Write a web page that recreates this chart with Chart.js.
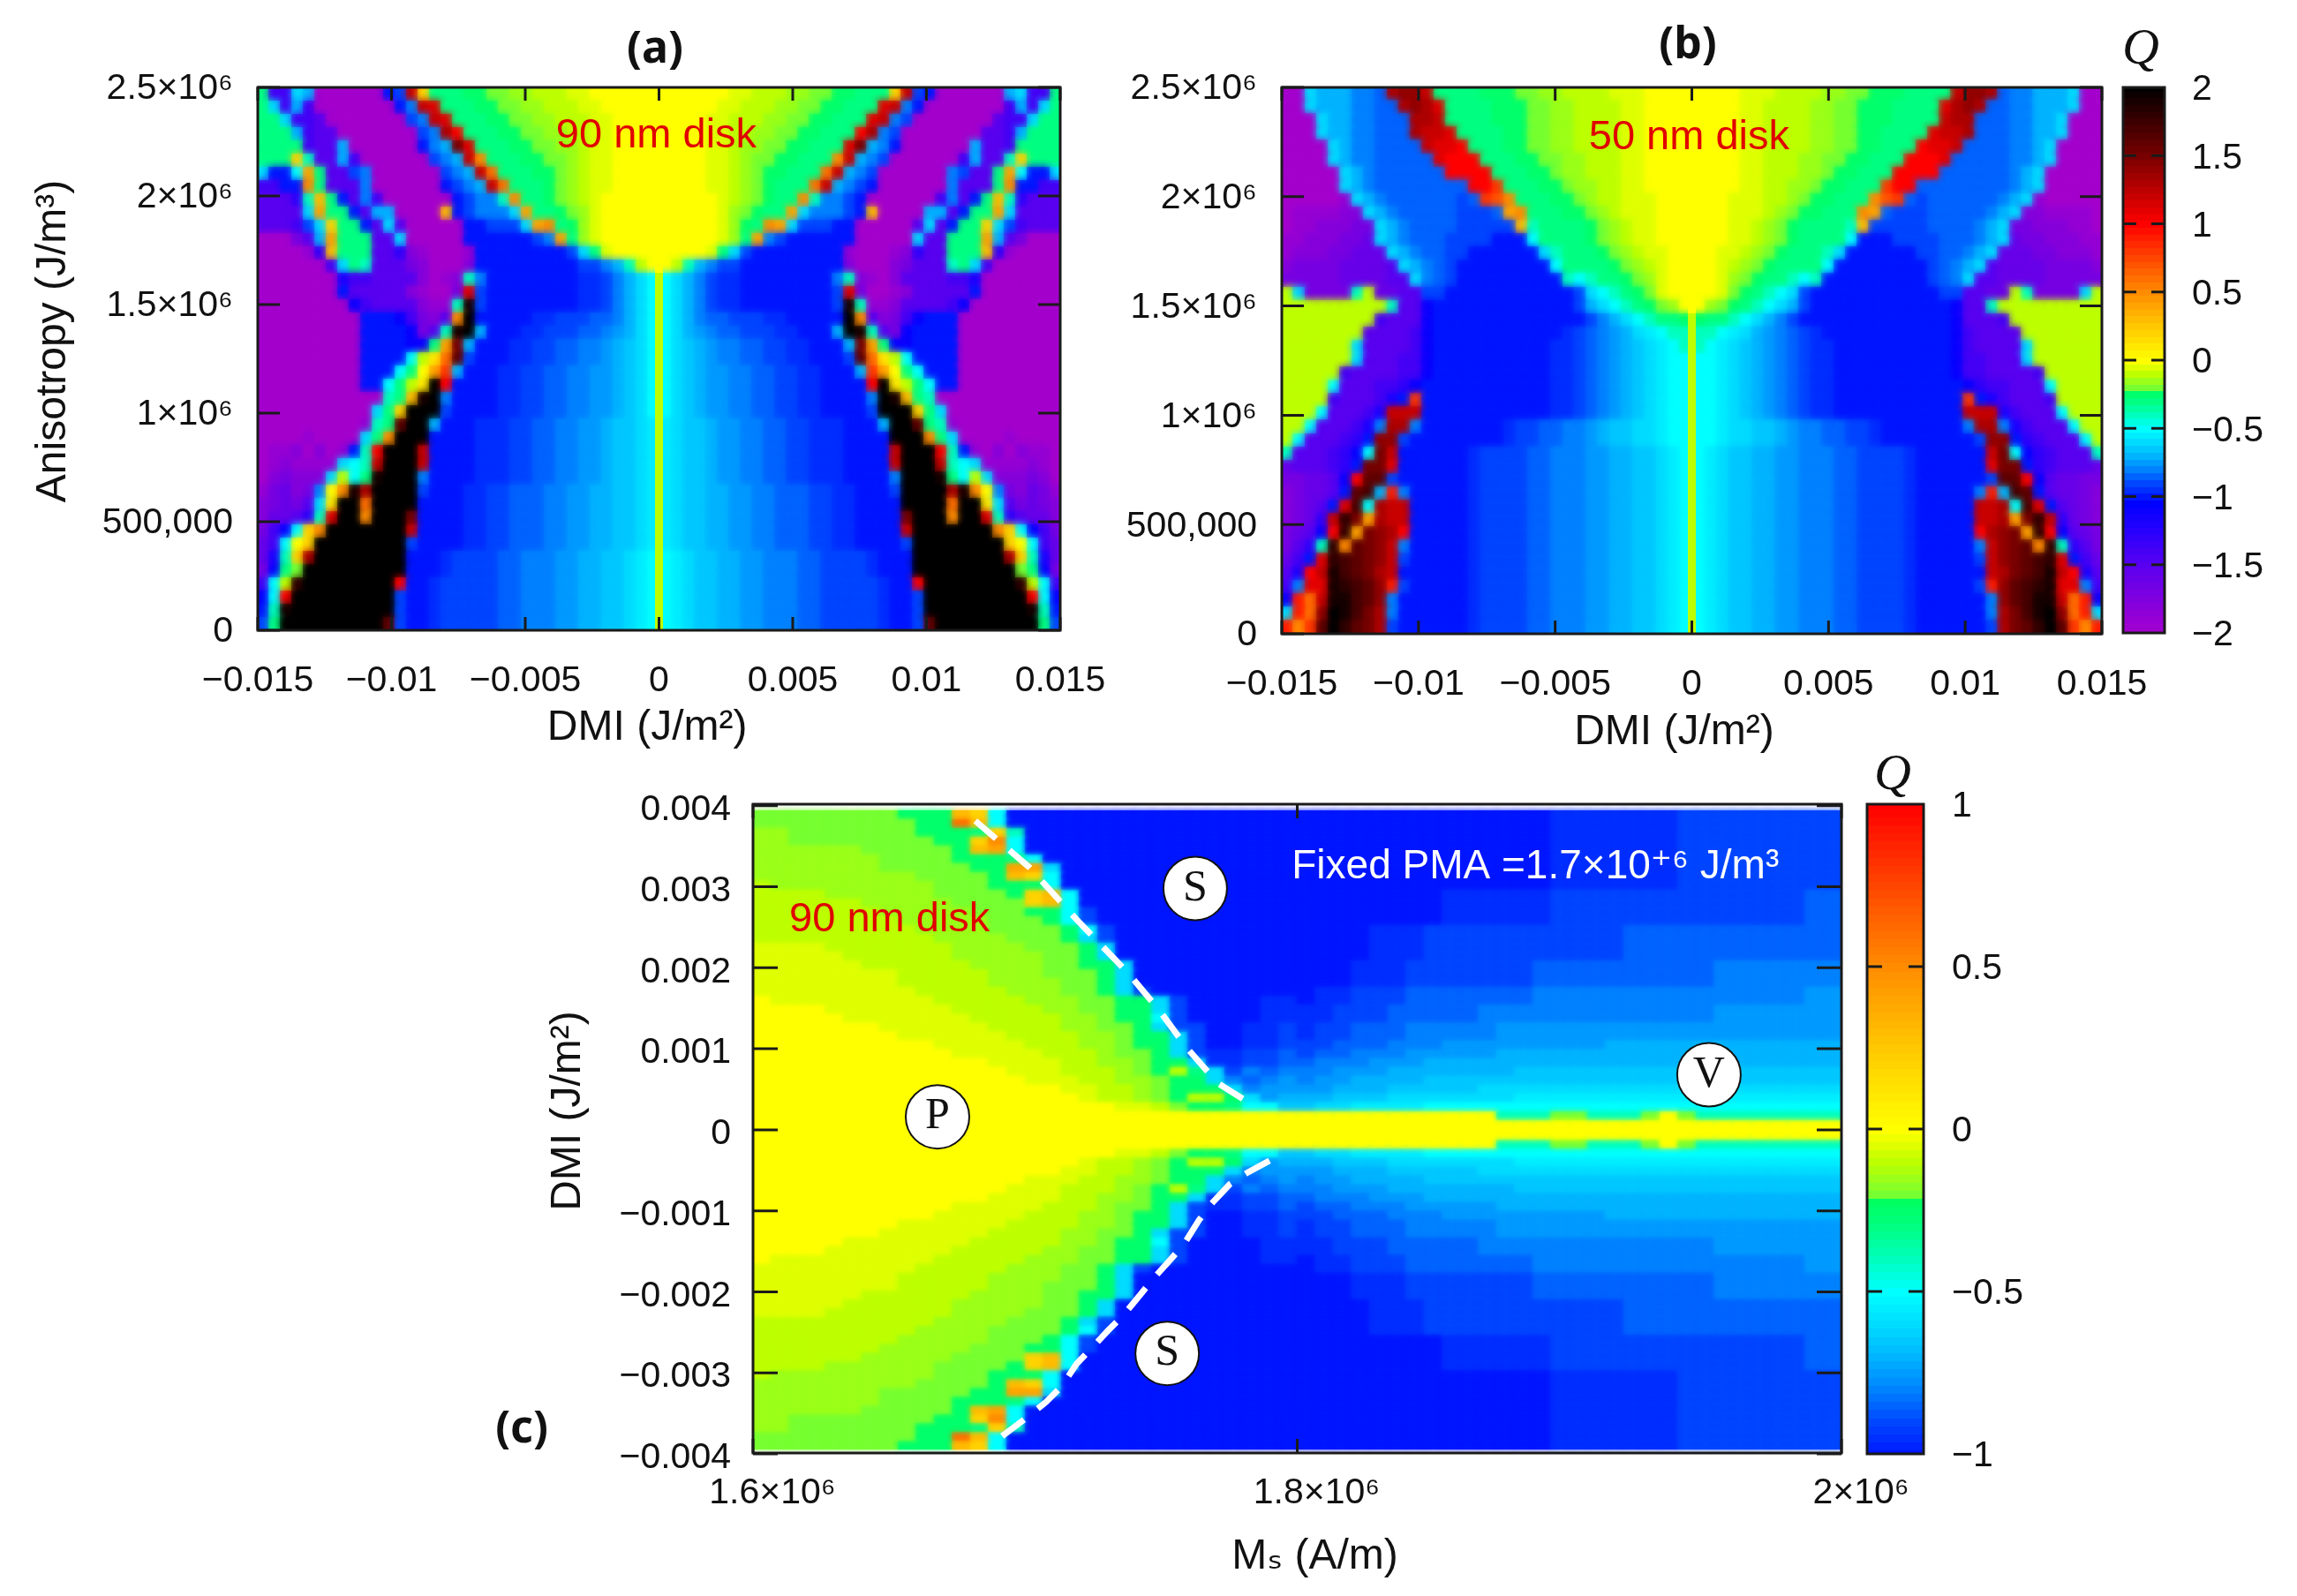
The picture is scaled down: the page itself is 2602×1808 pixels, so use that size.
<!DOCTYPE html>
<html>
<head>
<meta charset="utf-8">
<title>Q maps</title>
<script src="https://cdn.jsdelivr.net/npm/chart.js@4"></script>
<style>
html,body{margin:0;background:#fff}
#page{position:relative;width:2602px;height:1808px;overflow:hidden;color:#111}
canvas{position:absolute}
.note{position:absolute;transform:translate(-50%,-50%);white-space:nowrap}
.panel{font:bold 50px "Noto Sans"}
.q{font:italic 58px "Liberation Serif"}
</style>
</head>
<body>
<div id="page">
<canvas id="chart_a"></canvas>
<canvas id="chart_b"></canvas>
<canvas id="bar_ab"></canvas>
<canvas id="chart_c"></canvas>
<canvas id="bar_c"></canvas>
<div class="note panel" style="left:742px;top:52px">(a)</div>
<div class="note panel" style="left:1912px;top:47px">(b)</div>
<div class="note panel" style="left:591px;top:1615px">(c)</div>
<div class="note q" style="left:2425px;top:52px">Q</div>
<div class="note q" style="left:2144px;top:874px">Q</div>
</div>
<script>
// every letter is one read Q level, a = -2 ... u = 0 ... O = 2 in steps of 0.1
const q_levels = "abcdefghijklmnopqrstuvwxyzABCDEFGHIJKLMNO";
const q_half_levels = {"1": -0.25, "2": -0.15, "3": -0.05, "4": -0.95, "5": -0.85, "6": -0.75, "7": -0.65, "8": -0.55};

// (a) 90 nm disk, DMI < 0 side, top row = highest anisotropy. Map is mirror symmetric in DMI
const q_rows_a = [
"rggon aaaaa aklGw rrr11 ss22t tt33u uuuuu",
"rogng aaaaa aakmG Frrr1 1ss22 ttt33 uuuuu",
"rrogg faaaa aaalm GFrrr 11ss2 2ttt3 3uuuu",
"rrrng ffaaa aaaal mHErr r11ss 22tt3 3uuuu",
"rrrrg ffnaa aaaak mnJFr rr11s s22t3 3uuuu",
"rrrwq ffnga aaaaa lmnGz rrr11 ss2t3 3uuuu",
"okkpy rfflm aaaaa almnG Arrr1 1s2t3 3uuuu",
"ggkkz rfffm aaaaa aklmn GArrr 1s2t3 3uuuu",
"fffhq xrkfm gaaaa aaklm mqzrr 1s2t3 uuuuu",
"ffffo yrrkf nnaaa axklm mmoyr r1s23 uuuuu",
"fffgl owrrk fofaa aaakk llloy zr123 uuuuu",
"aaadf nyrrr ffoaa aaakk kkkkl myr23 uuuuu",
"aaaab hxrrr ffhcb aaabk kkkkk kklor 3uuuu",
"aaaaa agorq fffdc aaack kkkkk kkkll mnqtu",
"aaaaa aaigg ffffc abcqm kkkkk kkk44 lmnop",
"aaaaa aakff fffcb aadFl kkkkk kkk44 lmnop",
"aaaaa aaajg ffffc bbqNl kkkkk kkk44 lmnop",
"aaaaa aaaak kkjgd cfzOk kkkk4 4lll5 5mnop",
"aaaaa aaaak kkkjd fqNOn kkk44 lll55 m6nop",
"aaaaa aaaak kkkjj ryJnk kk44l l55mm 6n7op",
"aaaaa aaaak kkkpt vAKlk kk44l l55mm 6n7op",
"aaaaa aaaak kkpru yCnkk k44ll 55mm6 6n7op",
"aaaaa aaaak kprtv OEkkk k44ll 55mm6 6n7op",
"aaaaa aaaaa aqrxN Omkkk k44ll 55mm6 6n7op",
"aaaaa aaaaa orwOO Olkkk k44ll 55mm6 6n7op",
"aaaaa aaaab qrKOO nkkk4 44ll5 5mm66 n77o8",
"aaaab aaaao rzOOO kkkk4 44ll5 5mm66 n77o8",
"abbca cabkq EOOOG kkkk4 44ll5 5mm66 n77o8",
"abcbb bbopq GOOOG kkkk4 44ll5 5mm66 n77o8",
"acdcc cotpr NOOOm kkkk4 44ll5 5mm66 n77o8",
"bdecd muzNH OOOOl kkk44 ll555 mm66n n77o8",
"cdedf ovOOA OOOOk kkk44 ll555 mm66n n77o8",
"ceefh qFOOz OOOJk kkk44 ll555 mm66n n77o8",
"dgjpw zOOOO OOOGk kkk44 ll555 mm66n n77o8",
"egpuw OOOOO OOOlk kkk44 ll555 mm66n n77o8",
"eiqwH OOOOO OOOkk k4lll l55mm m66nn 77o8p",
"djrsO OOOOO OOOkk k4lll l55mm m66nn 77o8p",
"gptMO OOOOO OOEkk 4llll l55mm m66nn 77o8p",
"jpEOO OOOOO OOlkk 4llll l55mm m66nn 77o8p",
"kqNOO OOOOO OOlkk 4llll l55mm m66nn 77o8p",
"lrOOO OOOOO OKlkk 4llll l55mm m66nn 77o8p"
];
const q_centre_a = "uuuuu uuuuu uuuut ttttt ttttt ttttt ttttt ttttt t";

// (b) 50 nm disk, same layout
const q_rows_b = [
"aaonn nmm5H IIGrr rr111 ss22t ttt33 3uuuu",
"aaonn nmm55 HIHFr rrr11 1ss22 tttt3 3uuuu",
"aaaon nmm55 5HHGr rrr11 1ss22 tttt3 3uuuu",
"aaaon nmm55 5HGGF rrrr1 1ss22 tttt3 3uuuu",
"aaaao nmm55 55GFF Errr1 1ss22 tttt3 3uuuu",
"aaaao nmm55 555FE EErrr 11ss2 2ttt3 3uuuu",
"aaaaa onm55 5555E EEErr r11s2 2ttt3 3uuuu",
"aaaaa onm55 55555 5EECr rr11s 22tt3 3uuuu",
"aaaaa bonm5 55555 l5CBz rrr11 s2tt3 33uuu",
"abbbb cconm 55555 lll5y zrrr1 1s2t3 33uuu",
"abbcc cddon m5555 lllll xqrrr r1s2t 33uuu",
"bbccc ddeon m555l lllkk kprrr r1s2t 33uuu",
"bcccd deeeo nm55l lkkkk kkoqr rr1s2 t33uu",
"cdddd eeeef onm5l kkkkk kkkpr rrr1s 2t3uu",
"ddddd eeeef fom5l kkkkk kkkkq pqrr1 s23uu",
"toddd dqtee ffllk kkkkk kkkkk lopqr 1s3uu",
"ttttt ttttq ffjkk kkkkk kkkkk lnopq r1s2u",
"ttttt tttgf ffjkk kkkkk kkkkk klmno pqrr1",
"ttttt ttfff fgjkk kkkkk kkkk4 l5m6n o8pqq",
"ttttt tofff fgjkk kkkkk kkk44 l5m6n 7o8pq",
"ttttt tofff ggjkk kkkkk kkk44 l5m6n 7o8pp",
"ttttt gffff ggjkk kkkkk kkk44 l5m6n 7o8pp",
"ttttp fffgg hjkkk kkkkk kkk44 l5m6n 7o8pp",
"ttttg fffgi kCkkk kkkkk kkk44 l5m6n 7o8pp",
"tttpf ffgiG GGkkk kkkkk kkk44 l5m6n 7o8pp",
"ttpff fgimH Hmkkk kkkk4 ll55m m6n77 oo8pp",
"tpfff ghkII lkkkk kkkk4 ll55m m6n77 oo8pp",
"qfffg hjpJG kkkkk k4lll l55mm m66nn 77o8p",
"efffg hkJJF kkkkk k4lll l55mm m66nn 77o8p",
"ddeef jEKKl kkkkk k4lll l55mm m66nn 77o8p",
"cdeef kKLnD mkkkk k4lll l55mm m66nn 77o8p",
"cdefk FLpHG Gkkkk k4lll l55mm m66nn 77o8p",
"cdehG MJyHG Gkkkk k4lll l55mm m66nn 77o8p",
"defjE MyJIH Ekkkk k4lll l55mm m66nn 77o8p",
"dfhqM zKJIG mkkkk k4lll l55mm m66nn 77o8p",
"egkFM LKJIG lkkkk k4lll l55mm m66nn 77o8p",
"fiEGN LKJHG kkkkk k4lll l55mm m66nn 77o8p",
"gmFFN MLKID lkkkk k4lll l55mm m66nn 77o8p",
"jDAGN NLKIm kkkkk k4lll l55mm m66nn 77o8p",
"oDAIO NLJHm kkkkk k4lll l55mm m66nn 77o8p",
"DzCKO MKJHl kkkkk k4lll l55mm m66nn 77o8p"
];
const q_centre_b = "uuuuu uuuuu uuuuu uuttt ttttt ttttt ttttt ttttt t";

// (c) upper half only, DMI > 0, top row first. The lower half reads the same
const q_rows_c = [
"sssss sss11 1xwpk kkkkk kkkkk kkkkk kkkkk kkkkk kkkk4 44444 4llll lllll",
"sssss ssss1 1Axpk kkkkk kkkkk kkkkk kkkkk kkkkk kkkk4 44444 4llll lllll",
"22sss ssss1 11rwq kkkkk kkkkk kkkkk kkkkk kkkkk kkkk4 44444 4llll lllll",
"22sss sssss 11wzp kkkkk kkkkk kkkkk kkkkk kkkkk kkkk4 44444 4llll lllll",
"22222 2ssss s1xyp kkkkk kkkkk kkkkk kkkkk kkkkk kkkk4 44444 4llll lllll",
"22222 22sss s111r pkkkk kkkkk kkkkk kkkkk kkkkk kkkk4 44444 4llll lllll",
"22222 22sss ss11y yokkk kkkkk kkkkk kkkkk kkkkk kkkk4 44444 4llll lllll",
"22222 2222s sss1x wpkkk kkkkk kkkkk kkkkk kkkkk kkkk4 44444 4llll lllll",
"t2222 22222 sss11 1pkkk kkkkk kkkkk kkkkk kkkkk kkkk4 44444 4llll lllll",
"tttt2 22222 ssss1 wxpkk kkkkk kkkkk kkkkk kkk44 4444l lllll lllll lll55",
"ttttt t2222 2ssss wxpkk kkkkk kkkkk kkkkk kkk44 4444l lllll lllll lll55",
"ttttt tt222 22sss 11plk kkkkk kkkkk kkkkk kkk44 4444l lllll lllll lll55",
"ttttt ttt22 222ss s1plk kkkkk kkkkk kkkkk kkk44 4444l lllll lllll lll55",
"ttttt tttt2 222ss ss1pl kkkkk kkkkk kkkk4 44lll lllll lll55 55555 55555",
"ttttt ttttt 2222s ss1ol kkkkk kkkkk kkkk4 44lll lllll lll55 55555 55555",
"3333t ttttt t2222 sss1o kkkkk kkkkk kkkk4 44lll lllll lll55 55555 55555",
"33333 ttttt t2222 2ss1o kkkkk kkkkk kkkk4 44lll lllll lll55 55555 55555",
"33333 3tttt tt222 2ss11 okkkk kkkkk kkk44 4llll lll55 55555 555mm mmmmm",
"33333 333tt ttt22 2sss1 okkkk kkkkk kkk44 4llll lll55 55555 555mm mmmmm",
"33333 333tt ttt22 22ss1 okkkk kkkkk kkk44 4llll lll55 55555 555mm mmmmm",
"33333 3333t tttt2 22ss1 olkkk kkkkk k44ll l5555 555mm mmmmm mmmmm mmm66",
"u3333 33333 ttttt 222ss 11olk kkk44 k44ll l5555 555mm mmmmm mmmmm mmm66",
"uuuu3 33333 3tttt t22ss 11olk kkk44 44lll 55555 mmmmm mmmmm mmm66 66666",
"uuuuu 33333 33ttt tt22s 11plk kkk44 44lll 55555 mmmmm mmmmm mmm66 66666",
"uuuuu uu333 333tt tt22s s1oll kk44l 4ll55 5mmmm m6666 66666 66666 66666",
"uuuuu uuu33 3333t ttt22 s11ol kk44l 4ll55 5mmmm m6666 66666 66666 66666",
"uuuuu uuuuu 33333 ttt22 s11ol kk44l ll555 mmm66 66666 66nnn nnnnn nnnnn",
"uuuuu uuuuu u3333 3ttt2 ss1ol 44ll5 l55mm m6666 6nnnn nnnnn nnnnn nnnnn",
"uuuuu uuuuu uuu33 33tt2 2s11o 44ll5 5mmm6 66nnn nnnnn nnnnn nnnnn nnnnn",
"uuuuu uuuuu uuuu3 33ttt 2s1tr olm5m mm666 nnnnn nn777 77777 77777 77777",
"uuuuu uuuuu uuuuu 333tt 22s11 om5m6 m66nn nn777 77777 77777 77777 77777",
"uuuuu uuuuu uuuuu uu33t t2s11 1om66 66nnn 77777 ooooo ooooo ooooo ooooo",
"uuuuu uuuuu uuuuu uuu3t t2s1t t1o6n nn777 ooooo oo888 88888 88888 88888",
"uuuuu uuuuu uuuuu uuuuu 33ts1 1rpp7 7oo88 88ppp ppppp ppppp ppppp ppppp",
"uuuuu uuuuu uuuuu uuuuu uuuuu uuuuu uuuuu uuuuu uqqqs sqqqs usqqq qqqqq",
"uuuuu uuuuu uuuuu uuuuu uuuuu uuuuu uuuuu uuuuu uuuuu uuuuu uuuuu uuuuu"
];

const q_ramp_ab = [-2,-1.95,-1.9,-1.85,-1.8,-1.75,-1.7,-1.65,-1.6,-1.55,-1.5,-1.45,-1.4,-1.35,-1.3,-1.25,-1.2,-1.15,-1.1,-1.05,-1,-0.95,-0.9,-0.85,-0.8,-0.75,-0.7,-0.65,-0.6,-0.55,-0.5,-0.45,-0.4,-0.35,-0.3,-0.25,-0.2,-0.15,-0.1,-0.05,0,0.05,0.1,0.15,0.2,0.25,0.3,0.35,0.4,0.45,0.5,0.55,0.6,0.65,0.7,0.75,0.8,0.85,0.9,0.95,1,1.05,1.1,1.15,1.2,1.25,1.3,1.35,1.4,1.45,1.5,1.55,1.6,1.65,1.7,1.75,1.8,1.85,1.9,1.95,2];
const q_ramp_c = [-1,-0.975,-0.95,-0.925,-0.9,-0.875,-0.85,-0.825,-0.8,-0.775,-0.75,-0.725,-0.7,-0.675,-0.65,-0.625,-0.6,-0.575,-0.55,-0.525,-0.5,-0.475,-0.45,-0.425,-0.4,-0.375,-0.35,-0.325,-0.3,-0.275,-0.25,-0.225,-0.2,-0.175,-0.15,-0.125,-0.1,-0.075,-0.05,-0.025,0,0.025,0.05,0.075,0.1,0.125,0.15,0.175,0.2,0.225,0.25,0.275,0.3,0.325,0.35,0.375,0.4,0.425,0.45,0.475,0.5,0.525,0.55,0.575,0.6,0.625,0.65,0.675,0.7,0.725,0.75,0.775,0.8,0.825,0.85,0.875,0.9,0.925,0.95,0.975,1];

// tick values and labels
const dmi_ticks = [-0.015,-0.01,-0.005,0,0.005,0.01,0.015];
const dmi_labels = ["−0.015","−0.01","−0.005","0","0.005","0.01","0.015"];
const anis_ticks = [0,500000,1000000,1500000,2000000,2500000];
const anis_labels = ["0","500,000","1×10⁶","1.5×10⁶","2×10⁶","2.5×10⁶"];
const ms_ticks = [1600000,1800000,2000000];
const ms_labels = ["1.6×10⁶","1.8×10⁶","2×10⁶"];
const dmi_c_ticks = [-0.004,-0.003,-0.002,-0.001,0,0.001,0.002,0.003,0.004];
const dmi_c_labels = ["−0.004","−0.003","−0.002","−0.001","0","0.001","0.002","0.003","0.004"];
const bar_ab_ticks = [-2,-1.5,-1,-0.5,0,0.5,1,1.5,2];
const bar_ab_labels = ["−2","−1.5","−1","−0.5","0","0.5","1","1.5","2"];
const bar_c_ticks = [-1,-0.5,0,0.5,1];
const bar_c_labels = ["−1","−0.5","0","0.5","1"];

// dashed guide in (c)
const guide_up_ms = [1681700,1701700,1718900,1738100,1749400,1759300,1770600,1785200];
const guide_up_dmi = [0.003815,0.003235,0.002597,0.001926,0.001471,0.001017,0.000581,0.000272];
const guide_down_ms = [1789800,1781800,1775200,1768600,1764000,1758600,1754000,1747300,1742700,1736100,1730700,1724300,1718900,1713600,1707700,1700300,1694400,1686500];
const guide_down_dmi = [-0.000381,-0.000526,-0.000672,-0.000908,-0.00111,-0.0014,-0.00158,-0.00183,-0.00202,-0.00229,-0.00247,-0.0027,-0.00289,-0.00316,-0.00336,-0.00356,-0.00371,-0.00391];

// region markers in (c)
const region_names = ["P","S","S","V"];
const region_ms = [1667800,1762500,1752200,1951300];
const region_dmi = [0.00016,0.00298,-0.00276,0.00068];

// colour map of the colour bars
const map_q = [-2,-1.5,-1.2,-1.05,-0.9,-0.8,-0.7,-0.6,-0.5,-0.4,-0.3,-0.22,-0.2,-0.1,0,0.25,0.5,0.75,1,1.5,2];
const map_rgb = [[165,0,205],[90,0,240],[30,0,255],[0,0,255],[0,70,255],[0,130,255],[0,180,255],[0,220,255],[0,255,255],[0,255,190],[0,255,130],[0,255,95],[120,255,50],[190,255,0],[255,255,0],[255,200,0],[255,140,0],[255,70,0],[255,0,0],[120,0,0],[0,0,0]];

const sans = "'Liberation Sans','DejaVu Sans',sans-serif";
const tick_font = {family: sans, size: 41};
const ink = "#111";

function decode(row){
    return row.replace(/ /g, "").split("").map(c => c in q_half_levels ? q_half_levels[c] : (q_levels.indexOf(c) - 20) / 10);
}

function colourFor(q){
    let i = 0;
    while(i < map_q.length - 2 && q > map_q[i + 1]) i++;
    const t = Math.min(1, Math.max(0, (q - map_q[i]) / (map_q[i + 1] - map_q[i])));
    const c = map_rgb[i].map((v, k) => Math.round(v + (map_rgb[i + 1][k] - v) * t));
    return `rgb(${c[0]},${c[1]},${c[2]})`;
}

// one small canvas per cell size and colour, handed to Chart.js as the point style.
// soft cells are feathered, laid over the hard ones so neighbouring cells melt together
const cell_cache = {};
function cellStyle(ctx){
    if(!ctx.raw) return "rect";
    const xs = ctx.chart.scales.x, ys = ctx.chart.scales.y;
    const w = Math.ceil(Math.abs(xs.getPixelForValue(ctx.dataset.cellW) - xs.getPixelForValue(0))) + 1;
    const h = Math.ceil(Math.abs(ys.getPixelForValue(ctx.dataset.cellH) - ys.getPixelForValue(0))) + 1;
    const soft = ctx.dataset.soft || 0;
    const col = colourFor(ctx.raw.q);
    const key = w + "_" + h + "_" + soft + "_" + col;
    if(!cell_cache[key]){
        const m = soft * 3;
        const c = document.createElement("canvas");
        c.width = w + 2 * m;
        c.height = h + 2 * m;
        const g = c.getContext("2d");
        if(soft) g.filter = `blur(${soft}px)`;
        g.fillStyle = col;
        g.fillRect(m, m, w, h);
        cell_cache[key] = c;
    }
    return cell_cache[key];
}

function cellDataset(points, cellW, cellH, order, soft){
    return {data: points, cellW, cellH, order, soft, pointStyle: cellStyle, pointRadius: 2, pointBorderWidth: 0, showLine: false};
}

function halfMapPoints(rows, dmi_max, anis_max){
    const grid = rows.map(decode);
    const dx = dmi_max / grid[0].length, dy = anis_max / grid.length;
    const points = [];
    grid.forEach((row, r) => row.forEach((q, c) => {
        const x = -dmi_max + (c + 0.5) * dx, y = anis_max - (r + 0.5) * dy;
        points.push({x, y, q}, {x: -x, y, q});
    }));
    return {points, dx, dy};
}

function mapDatasets(rows, centre, dmi_max, anis_max){
    const m = halfMapPoints(rows, dmi_max, anis_max);
    const values = decode(centre);
    const dy = anis_max / values.length;
    const centre_points = values.map((q, r) => ({x: 0, y: anis_max - (r + 0.5) * dy, q}));
    return [
        cellDataset(m.points, m.dx, m.dy, 6, 0),
        cellDataset(m.points, m.dx, m.dy, 5, 4),
        cellDataset(centre_points, 0.00024, dy, 4, 0)
    ];
}

function rampDataset(ramp, step){
    return cellDataset(ramp.map(q => ({x: 0.5, y: q, q})), 1, step, 5, 0);
}

function zip(xs, ys){
    return xs.map((x, i) => ({x, y: ys[i]}));
}

function axis(lo, hi, values, labels, opts){
    return {
        min: lo, max: hi,
        position: opts.position,
        display: opts.display !== false,
        grid: {display: false, drawTicks: false},
        border: {display: false},
        afterBuildTicks: s => { s.ticks = values.map(v => ({value: v})); },
        afterFit: s => {
            if(!opts.size) return;
            if(s.isHorizontal()) s.height = opts.size; else s.width = opts.size;
        },
        ticks: {
            autoSkip: false, maxRotation: 0, minRotation: 0,
            padding: opts.padding, labelOffset: opts.offset || 0,
            font: tick_font, color: ink,
            callback: (v, i) => labels[i]
        },
        title: opts.title ? {
            display: true, text: opts.title, color: ink,
            font: {family: sans, size: 48},
            padding: {top: opts.titlePad, bottom: opts.titlePad}
        } : {display: false}
    };
}

// frame, inward ticks and the texts sitting on the map
function marksPlugin(tick_x, tick_y, notes, gapped){
    return {
        id: "marks",
        afterDatasetsDraw(chart){
            const g = chart.ctx, a = chart.chartArea, xs = chart.scales.x, ys = chart.scales.y;
            g.save();
            g.strokeStyle = "#1a1a1a";
            g.lineWidth = 3;
            g.strokeRect(a.left, a.top, a.right - a.left, a.bottom - a.top);
            if(tick_x > 0) xs.ticks.forEach(t => {
                const p = xs.getPixelForValue(t.value);
                g.beginPath();
                g.moveTo(p, a.top); g.lineTo(p, a.top + tick_x);
                g.moveTo(p, a.bottom); g.lineTo(p, a.bottom - tick_x);
                g.stroke();
            });
            ys.ticks.forEach(t => {
                const p = ys.getPixelForValue(t.value);
                if(gapped && (p <= a.top + 2 || p >= a.bottom - 2)) return;
                g.beginPath();
                g.moveTo(a.left, p); g.lineTo(a.left + tick_y, p);
                g.moveTo(a.right, p); g.lineTo(a.right - tick_y, p);
                g.stroke();
            });
            g.textAlign = "center";
            g.textBaseline = "middle";
            notes.forEach(n => {
                g.font = n.font;
                g.fillStyle = n.color;
                g.fillText(n.text, xs.getPixelForValue(n.x), ys.getPixelForValue(n.y));
            });
            g.restore();
        }
    };
}

function makeChart(id, box, plot, datasets, x_axis, y_axis, plugin){
    const canvas = document.getElementById(id);
    canvas.width = box.r - box.l;
    canvas.height = box.b - box.t;
    canvas.style.left = box.l + "px";
    canvas.style.top = box.t + "px";
    return new Chart(canvas, {
        type: "scatter",
        data: {datasets},
        plugins: [plugin],
        options: {
            responsive: false,
            animation: false,
            events: [],
            devicePixelRatio: 1,
            layout: {padding: {
                left: y_axis.position === "right" ? plot.l - box.l : 0,
                top: plot.t - box.t,
                right: y_axis.position === "right" ? 0 : box.r - plot.r,
                bottom: x_axis.display === false ? box.b - plot.b : 0
            }},
            plugins: {legend: {display: false}, tooltip: {enabled: false}, title: {display: false}},
            scales: {x: x_axis, y: y_axis}
        }
    });
}

const red_note = "47px " + sans;
// the axis titles of the reference sit a little off the axis middle
const nudge = n => "\u00A0".repeat(n);

// (a)
makeChart("chart_a", {l: 0, t: 0, r: 1310, b: 860}, {l: 292, t: 99, r: 1201, b: 714},
    mapDatasets(q_rows_a, q_centre_a, 0.015, 2500000),
    axis(-0.015, 0.015, dmi_ticks, dmi_labels, {position: "bottom", size: 146, padding: 33, title: "DMI (J/m²)" + nudge(2), titlePad: 6}),
    axis(0, 2500000, anis_ticks, anis_labels, {position: "left", size: 292, padding: 28, offset: 2, title: nudge(3) + "Anisotropy (J/m³)", titlePad: 32}),
    marksPlugin(15, 25, [{text: "90 nm disk", x: -0.0001, y: 2276000, font: red_note, color: "#e00000"}]));

// (b)
makeChart("chart_b", {l: 1260, t: 0, r: 2490, b: 860}, {l: 1452, t: 99, r: 2381, b: 718},
    mapDatasets(q_rows_b, q_centre_b, 0.015, 2500000),
    axis(-0.015, 0.015, dmi_ticks, dmi_labels, {position: "bottom", size: 142, padding: 33, title: "DMI (J/m²)" + nudge(3), titlePad: 1}),
    axis(0, 2500000, anis_ticks, anis_labels, {position: "left", size: 192, padding: 28, offset: 2}),
    marksPlugin(15, 25, [{text: "50 nm disk", x: -0.0001, y: 2270000, font: red_note, color: "#e00000"}]));

// colour bar of (a) and (b)
makeChart("bar_ab", {l: 2395, t: 20, r: 2602, b: 775}, {l: 2405, t: 99, r: 2452, b: 717},
    [rampDataset(q_ramp_ab, 0.05)],
    axis(0, 1, [], [], {display: false, position: "bottom"}),
    axis(-2, 2, bar_ab_ticks, bar_ab_labels, {position: "right", size: 150, padding: 31, offset: 3}),
    marksPlugin(0, 15, [], true));

// (c)
const grid_c = q_rows_c.map(decode);
const c_top = 0.003935, c_dx = 400000 / grid_c[0].length, c_dy = c_top / grid_c.length;
const points_c = [];
grid_c.forEach((row, r) => row.forEach((q, c) => {
    const x = 1600000 + (c + 0.5) * c_dx, y = c_top - (r + 0.5) * c_dy;
    points_c.push({x, y, q}, {x, y: -y, q});
}));
const guide = {showLine: true, pointRadius: 0, borderColor: "#fff", borderWidth: 7, borderDash: [31, 20], order: 2, tension: 0};
makeChart("chart_c", {l: 560, t: 840, r: 2210, b: 1800}, {l: 853, t: 911, r: 2086, b: 1646},
    [
        cellDataset(points_c, c_dx, c_dy, 6, 0),
        cellDataset(points_c, c_dx, c_dy, 5, 3),
        {...guide, data: zip(guide_up_ms, guide_up_dmi)},
        {...guide, data: zip(guide_down_ms, guide_down_dmi)},
        {data: zip(region_ms, region_dmi), order: 1, showLine: false, pointRadius: 36, pointBackgroundColor: "#fff", pointBorderColor: "#111", pointBorderWidth: 2}
    ],
    axis(1600000, 2000000, ms_ticks, ms_labels, {position: "bottom", size: 154, padding: 21, offset: 22, title: nudge(3) + "Mₛ (A/m)", titlePad: 7}),
    axis(-0.00399, 0.00402, dmi_c_ticks, dmi_c_labels, {position: "left", size: 293, padding: 25, offset: 5, title: nudge(3) + "DMI (J/m²)", titlePad: 55}),
    marksPlugin(16, 28, [
        {text: "90 nm disk", x: 1650200, y: 0.00259, font: red_note, color: "#e00000"},
        {text: "Fixed PMA =1.7×10⁺⁶ J/m³", x: 1887500, y: 0.00324, font: "46px " + sans, color: "#fff"},
        ...region_names.map((name, i) => ({text: name, x: region_ms[i], y: region_dmi[i], font: "50px 'Liberation Serif'", color: "#111"}))
    ]));

// colour bar of (c)
makeChart("bar_c", {l: 2105, t: 840, r: 2400, b: 1720}, {l: 2115, t: 911, r: 2179, b: 1647},
    [rampDataset(q_ramp_c, 0.025)],
    axis(0, 1, [], [], {display: false, position: "bottom"}),
    axis(-1, 1, bar_c_ticks, bar_c_labels, {position: "right", size: 221, padding: 32, offset: 3}),
    marksPlugin(0, 17, [], true));
</script>
</body>
</html>
